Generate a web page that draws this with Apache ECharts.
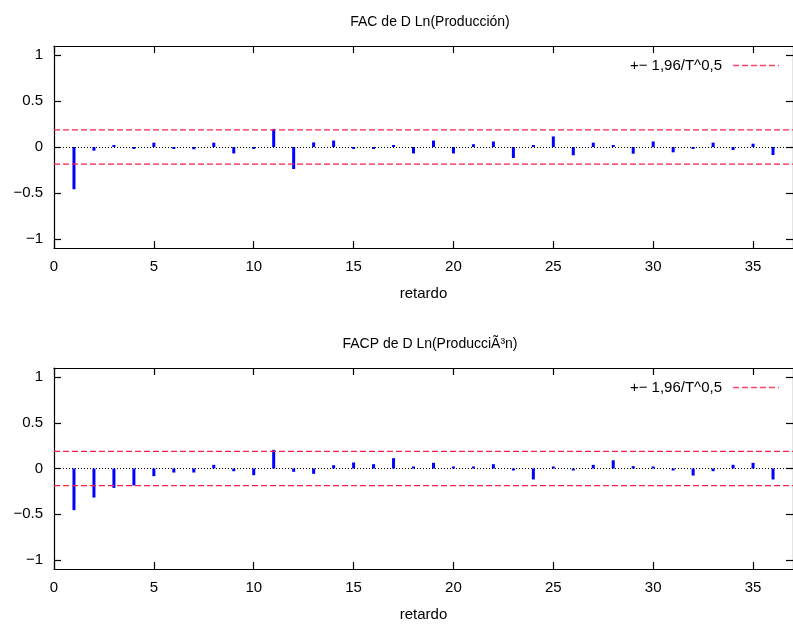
<!DOCTYPE html>
<html>
<head>
<meta charset="utf-8">
<script src="https://cdn.jsdelivr.net/npm/echarts@6/dist/echarts.min.js"></script>
<style>html,body{margin:0;padding:0;background:#fff;}#chart{width:793px;height:624px;}</style>
</head>
<body>
<div id="chart"></div>
<script>
const lags = [1,2,3,4,5,6,7,8,9,10,11,12,13,14,15,16,17,18,19,20,21,22,23,24,25,26,27,28,29,30,31,32,33,34,35,36];
const facValues = [-0.46,-0.04,0.015,-0.02,0.047,-0.007,-0.025,0.047,-0.07,-0.01,0.197,-0.24,
  0.05,0.07,-0.01,-0.005,0.02,-0.07,0.07,-0.07,0.03,0.06,-0.12,0.015,
  0.115,-0.09,0.047,0.007,-0.073,0.06,-0.058,-0.003,0.047,-0.033,0.036,-0.087];
const facpValues = [-0.456,-0.318,-0.212,-0.186,-0.084,-0.044,-0.044,0.04,-0.03,-0.073,0.204,-0.036,
  -0.058,0.036,0.066,0.047,0.113,0.022,0.062,0.018,0.007,0.047,-0.015,-0.12,
  0.022,-0.011,0.04,0.09,0.026,0.022,-0.004,-0.077,-0.029,0.04,0.062,-0.12];
const xTickLabels = [0,5,10,15,20,25,30,35];
const yTickLabels = [-1,-0.5,0,0.5,1];
const bandLimit = 0.187;
const xRange = [0, 37];
const yRange = [-1.1, 1.1];
const titles = ['FAC de D Ln(Producción)', 'FACP de D Ln(ProducciÃ³n)'];
const xAxisName = 'retardo';
const bandName = '+− 1,96/T^0,5';

const FONT = "'Liberation Sans', Arial, sans-serif";
const fmt = v => String(v).replace('-', '−');
const chart = echarts.init(document.getElementById('chart'), null, {renderer: 'canvas'});

const dashIcon = 'path://M0,0h6v1h-6z M9,0h6v1h-6z M18,0h6v1h-6z M27,0h6v1h-6z M36,0h6v1h-6z M45,0h1v1h-1z';
const grids = [
  {left: 54, top: 46, width: 744, height: 202},
  {left: 54, top: 368, width: 744, height: 201}
];
const xAxes = [], yAxes = [], series = [], legends = [], titleOpts = [];
const blk = {color: '#000', width: 1.2};
grids.forEach((g, i) => {
  xAxes.push({type: 'value', gridIndex: i, min: xRange[0], max: xRange[1], position: 'bottom',
    name: xAxisName, nameLocation: 'middle', nameGap: 38,
    nameTextStyle: {fontFamily: FONT, fontSize: 15, color: '#000'},
    axisLine: {onZero: false, lineStyle: blk},
    axisTick: {inside: true, length: 7, lineStyle: blk, customValues: xTickLabels},
    axisLabel: {customValues: xTickLabels, formatter: fmt, fontFamily: FONT, fontSize: 15, color: '#000', margin: 11},
    splitLine: {show: false}});
  xAxes.push({type: 'value', gridIndex: i, min: xRange[0], max: xRange[1], position: 'top',
    axisLine: {onZero: false, lineStyle: blk},
    axisTick: {inside: true, length: 7, lineStyle: blk, customValues: xTickLabels},
    axisLabel: {show: false}, splitLine: {show: false}});
  yAxes.push({type: 'value', gridIndex: i, min: yRange[0], max: yRange[1], position: 'left',
    axisLine: {onZero: false, lineStyle: blk},
    axisTick: {inside: true, length: 7, lineStyle: blk, customValues: yTickLabels},
    axisLabel: {customValues: yTickLabels, formatter: fmt, fontFamily: FONT, fontSize: 15, color: '#000', margin: 11},
    splitLine: {show: false}});
  yAxes.push({type: 'value', gridIndex: i, min: yRange[0], max: yRange[1], position: 'right',
    axisLine: {onZero: false, lineStyle: blk},
    axisTick: {inside: true, length: 7, lineStyle: blk, customValues: yTickLabels},
    axisLabel: {show: false}, splitLine: {show: false}});
  const xi = i * 2, yi = i * 2;
  const vals = i === 0 ? facValues : facpValues;
  series.push({type: 'bar', name: titles[i], xAxisIndex: xi, yAxisIndex: yi,
    data: lags.map((l, k) => [l, vals[k]]), barWidth: 3, barMinHeight: 2,
    itemStyle: {color: '#0000ff'}, silent: true, animation: false,
    markLine: {silent: true, symbol: 'none', label: {show: false},
      lineStyle: {color: '#000', type: [1, 2], width: 1}, data: [{yAxis: 0}], animation: false}});
  [bandLimit, -bandLimit].forEach(b => {
    series.push({type: 'line', name: bandName, xAxisIndex: xi, yAxisIndex: yi,
      data: [[xRange[0], b], [xRange[1], b]], symbol: 'none', showSymbol: false,
      lineStyle: {color: '#ff2050', type: [6, 3], width: 1.2}, itemStyle: {color: '#ff2050'},
      silent: true, animation: false});
  });
  legends.push({data: [bandName], right: 14, top: g.top + 12, align: 'right', padding: 0,
    itemWidth: 46, itemHeight: 1.3, itemGap: 0, selectedMode: false,
    icon: dashIcon, symbolKeepAspect: false,
    itemStyle: {color: '#ff4468', borderWidth: 0},
    textStyle: {fontFamily: FONT, fontSize: 15, color: '#000', padding: [0, 6, 0, 0]}});
  titleOpts.push({text: titles[i], left: 425, textAlign: 'center', top: g.top - 36,
    textStyle: {fontFamily: FONT, fontSize: 14, fontWeight: 'normal', color: '#000'}});
});

chart.setOption({
  animation: false,
  backgroundColor: '#fff',
  title: titleOpts,
  legend: legends,
  grid: grids,
  xAxis: xAxes,
  yAxis: yAxes,
  series: series
});
</script>
</body>
</html>
